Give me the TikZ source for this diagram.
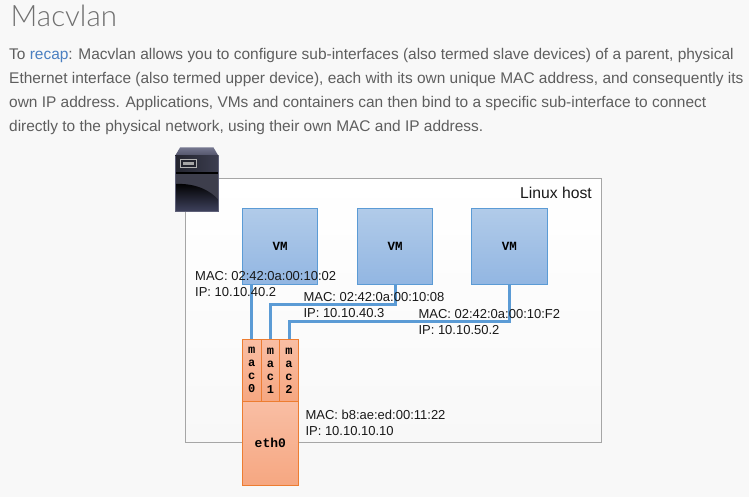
\documentclass[tikz,border=0pt]{standalone}
\usepackage{fontspec}
\setmainfont{Liberation Sans}
\newfontfamily\titlefont{Lato Light}
\newfontfamily\monofont{Liberation Mono}
\definecolor{pagebg}{HTML}{F8F8F8}
\definecolor{bodytxt}{HTML}{5E5E5E}
\definecolor{titletxt}{HTML}{707070}
\definecolor{linkblue}{HTML}{4A7FC1}
\definecolor{vmline}{HTML}{5B9BD5}
\definecolor{vmtop}{HTML}{B1CBE9}
\definecolor{vmbot}{HTML}{92B6E2}
\definecolor{ifline}{HTML}{ED7D31}
\definecolor{iftop}{HTML}{F9BEA4}
\definecolor{ifbot}{HTML}{F6A781}
\definecolor{srvtopa}{HTML}{74768E}
\definecolor{srvtopb}{HTML}{505268}
\definecolor{srvupa}{HTML}{23242E}
\definecolor{srvupb}{HTML}{3C3E50}
\definecolor{srvlow}{HTML}{3D3E4C}
\definecolor{srvbot}{HTML}{3E415C}
\definecolor{srvedge}{HTML}{5E6078}
\tikzset{
  x=1pt,y=-1pt,
  hostbox/.style={draw=black!35,line width=1pt,outer sep=0pt,top color=white,bottom color=pagebg,anchor=north west,inner sep=0pt,minimum width=416pt,minimum height=263.5pt},
  vmbox/.style={draw=vmline,line width=1pt,outer sep=0pt,top color=vmtop,bottom color=vmbot,anchor=north west,inner sep=0pt,minimum width=75.5pt,minimum height=76pt,font=\monofont\bfseries\fontsize{12.5}{13}\selectfont},
  macbox/.style={draw=ifline,line width=1pt,outer sep=0pt,top color=iftop,bottom color=ifbot,anchor=north west,inner sep=0pt,minimum height=62pt,align=center,font=\monofont\bfseries\fontsize{12}{13}\selectfont},
  ethbox/.style={draw=ifline,line width=1pt,outer sep=0pt,top color=iftop,bottom color=ifbot,anchor=north west,inner sep=0pt,minimum width=56pt,minimum height=84pt,font=\monofont\bfseries\fontsize{13}{13}\selectfont},
  link/.style={draw=vmline,line width=3pt},
  addr/.style={anchor=base west,inner sep=0pt,text=black!90,font=\fontsize{13}{16}\selectfont,align=left},
  bodyline/.style={anchor=base west,inner sep=0pt,text=bodytxt,font=\fontsize{15.45}{16}\selectfont},
}
\begin{document}
\begin{tikzpicture}
\useasboundingbox (0,0) rectangle (749,497);
\fill[pagebg] (0,0) rectangle (749,497);
\node[anchor=base west,inner sep=0pt,text=titletxt,font=\titlefont\fontsize{29.5}{30}\selectfont] (title) at (10.5,27) {Macvlan};
\node[bodyline] (l1) at (9,60) {To \textcolor{linkblue}{recap}: Macvlan allows you to configure sub-interfaces (also termed slave devices) of a parent, physical};
\node[bodyline] (l2) at (9,84) {Ethernet interface (also termed upper device), each with its own unique MAC address, and consequently its};
\node[bodyline] (l3) at (9,108) {own IP address. Applications, VMs and containers can then bind to a specific sub-interface to connect};
\node[bodyline] (l4) at (9,132) {directly to the physical network, using their own MAC and IP address.};
\node[hostbox] (host) at (185.5,178.5) {};
\node[anchor=base west,inner sep=0pt,text=black!90,font=\fontsize{15.7}{16}\selectfont] (hostlabel) at (520,199) {Linux host};
% server icon
\shade[top color=srvtopa,bottom color=srvtopb] (180,147.5) -- (213.5,147.5) -- (218.5,156) -- (175,156) -- cycle;
\shade[left color=srvupa,right color=srvupb] (175,156) rectangle (218.5,173);
\fill[black] (175,172.5) rectangle (218.5,174);
\fill[srvlow] (175,174) rectangle (218.5,211);
\shade[top color=black,bottom color=srvbot] (175,184) .. controls (195,183) and (210,190) .. (218.5,200) -- (218.5,211) -- (175,211) -- cycle;
\draw[srvedge,line width=.8pt] (175,156) -- (175,211) -- (218.5,211) -- (218.5,156);
\draw[black!30,line width=1pt,fill=srvupa] (180.5,159.5) rectangle (196.5,168);
\fill[black!35] (183,162.5) rectangle (194,165);
\node[vmbox] (vm1) at (242.3,208.5) {VM};
\node[vmbox] (vm2) at (357.3,208.5) {VM};
\node[vmbox] (vm3) at (471.5,208.5) {VM};
\node[macbox,minimum width=19pt] (mac0) at (242.3,339.3) {m\\a\\c\\0};
\node[macbox,minimum width=18.4pt] (mac1) at (261.3,339.3) {m\\a\\c\\1};
\node[macbox,minimum width=18.6pt] (mac2) at (279.7,339.3) {m\\a\\c\\2};
\node[ethbox] (eth0) at (242.3,401.3) {eth0};
\coordinate (bus1) at (0,304);
\coordinate (bus2) at (0,321.7);
\draw[link] (mac0.north) -- (mac0.north |- vm1.south);
\draw[link] (mac1.north) -- (mac1.north |- bus1) -| (vm2.south);
\draw[link] (mac2.north) -- (mac2.north |- bus2) -| (vm3.south);
\node[addr] (a1) at (195,296) {MAC: 02:42:0a:00:10:02\\IP: 10.10.40.2};
\node[addr] (a2) at (303.3,317.7) {MAC: 02:42:0a:00:10:08\\IP: 10.10.40.3};
\node[addr] (a3) at (418.3,334) {MAC: 02:42:0a:00:10:F2\\IP: 10.10.50.2};
\node[addr] (a4) at (305.3,435) {MAC: b8:ae:ed:00:11:22\\IP: 10.10.10.10};
\end{tikzpicture}
\end{document}
